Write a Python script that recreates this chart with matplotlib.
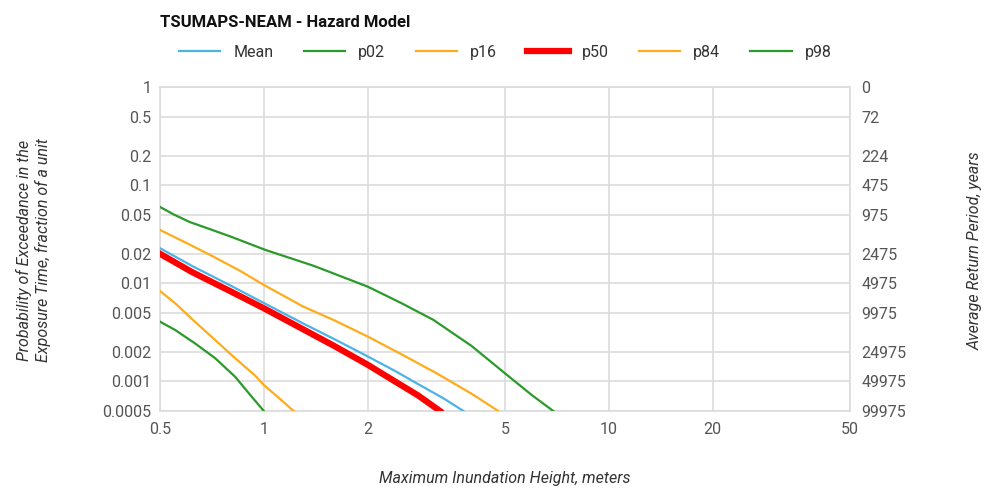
import matplotlib.pyplot as plt
import matplotlib.ticker as mtick

plt.rcParams['font.family'] = ['Roboto', 'DejaVu Sans']

# --- data ---
mean_x = [0.5, 0.62, 0.8, 1.0, 1.3, 1.6, 2.0, 2.4, 2.77, 3.3, 3.79]
mean_y = [0.0228, 0.0150, 0.0095, 0.0063, 0.0039, 0.0027, 0.0018, 0.00128, 0.00096, 0.00068, 0.0005]

p02_x = [0.5, 0.553, 0.631, 0.722, 0.825, 0.922, 1.0]
p02_y = [0.00407, 0.00335, 0.00245, 0.00173, 0.00112, 0.00070, 0.0005]

p16_x = [0.5, 0.553, 0.631, 0.722, 0.825, 0.943, 1.0, 1.1, 1.22]
p16_y = [0.00837, 0.00627, 0.00407, 0.00265, 0.00173, 0.00115, 0.00092, 0.00069, 0.0005]

p50_x = [0.5, 0.62, 0.8, 1.0, 1.3, 1.6, 2.0, 2.4, 2.8, 3.24]
p50_y = [0.0200, 0.0130, 0.0083, 0.00557, 0.0034, 0.0023, 0.00148, 0.00100, 0.00072, 0.0005]

p84_x = [0.5, 0.6, 0.714, 0.85, 1.0, 1.3, 1.6, 2.0, 2.5, 3.17, 4.0, 4.78]
p84_y = [0.035, 0.0255, 0.0187, 0.0135, 0.00963, 0.0058, 0.0042, 0.00287, 0.0019, 0.00121, 0.00075, 0.0005]

p98_x = [0.5, 0.55, 0.611, 0.7, 0.8, 1.01, 1.4, 2.0, 2.5, 3.1, 4.0, 5.0, 6.0, 6.9]
p98_y = [0.060, 0.050, 0.0420, 0.0355, 0.030, 0.0219, 0.0150, 0.00925, 0.0063, 0.00424, 0.00230, 0.00121, 0.00072, 0.0005]

y_ticks = [1, 0.5, 0.2, 0.1, 0.05, 0.02, 0.01, 0.005, 0.002, 0.001, 0.0005]
y_labels = ['1', '0.5', '0.2', '0.1', '0.05', '0.02', '0.01', '0.005', '0.002', '0.001', '0.0005']
return_labels = ['0', '72', '224', '475', '975', '2475', '4975', '9975', '24975', '49975', '99975']
x_ticks = [0.5, 1, 2, 5, 10, 20, 50]
x_labels = ['0.5', '1', '2', '5', '10', '20', '50']

# --- colours ---
BLUE = '#4db3e6'
GREEN = '#2a9a2a'
ORANGE = '#ffab1a'
RED = '#ff0000'
GRID = '#dcdcdc'
TICK = '#555555'

fig = plt.figure(figsize=(9.85, 4.91), dpi=100)
ax = fig.add_axes([0.1624, 0.1629, 0.7006, 0.6599])

ax.plot(mean_x, mean_y, color=BLUE, lw=1.6, label='Mean', zorder=4)
ax.plot(p02_x, p02_y, color=GREEN, lw=1.6, label='p02', zorder=3)
ax.plot(p16_x, p16_y, color=ORANGE, lw=1.6, label='p16', zorder=3)
ax.plot(p50_x, p50_y, color=RED, lw=4.5, label='p50', zorder=3)
ax.plot(p84_x, p84_y, color=ORANGE, lw=1.6, label='p84', zorder=3)
ax.plot(p98_x, p98_y, color=GREEN, lw=1.6, label='p98', zorder=3)

ax.set_xscale('log')
ax.set_yscale('log')
ax.set_xlim(0.5, 50)
ax.set_ylim(0.0005, 1)

ax.set_xticks(x_ticks)
ax.set_xticklabels(x_labels)
ax.set_yticks(y_ticks)
ax.set_yticklabels(y_labels)
ax.xaxis.set_minor_locator(mtick.NullLocator())
ax.yaxis.set_minor_locator(mtick.NullLocator())
ax.tick_params(axis='both', length=0, labelsize=11.5, labelcolor=TICK)
ax.tick_params(axis='x', pad=8)
ax.tick_params(axis='y', pad=6)

ax.grid(True, color=GRID, lw=1.2, zorder=0)
ax.set_axisbelow(True)
for s in ax.spines.values():
    s.set_color(GRID)
    s.set_linewidth(1.2)

# right axis: average return period
ax2 = ax.twinx()
ax2.set_yscale('log')
ax2.set_ylim(0.0005, 1)
ax2.set_yticks(y_ticks)
ax2.set_yticklabels(return_labels)
ax2.yaxis.set_minor_locator(mtick.NullLocator())
ax2.tick_params(axis='y', length=0, labelsize=11.5, labelcolor=TICK, pad=8)
for s in ax2.spines.values():
    s.set_visible(False)

# labels
fig.text(0.5127, 0.026, 'Maximum Inundation Height, meters', ha='center', va='center',
         fontsize=11.5, style='italic', color='#333333')
fig.text(0.034, 0.49, 'Probability of Exceedance in the\nExposure Time, fraction of a unit',
         ha='center', va='center', rotation=90, fontsize=11.5, style='italic',
         color='#333333', linespacing=1.3)
fig.text(0.99, 0.49, 'Average Return Period, years', ha='center', va='center',
         rotation=90, fontsize=11.5, style='italic', color='#333333')

fig.text(0.1624, 0.955, 'TSUMAPS-NEAM - Hazard Model', ha='left', va='center',
         fontsize=12, fontweight='bold', color='#111111')

handles, labels = ax.get_legend_handles_labels()
leg = fig.legend(handles, labels, loc='center', bbox_to_anchor=(0.513, 0.893), ncol=6,
                 frameon=False, fontsize=11.5, handlelength=2.6, columnspacing=1.9,
                 handletextpad=0.8)
for t in leg.get_texts():
    t.set_color('#333333')

fig.savefig('out.png', dpi=100)
